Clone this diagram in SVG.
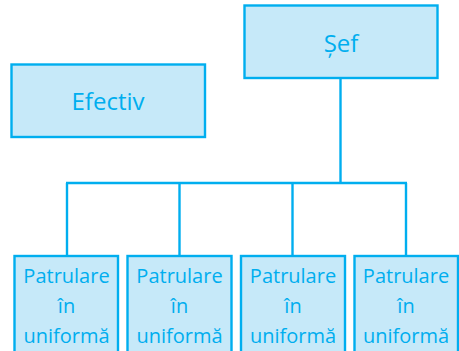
<svg xmlns="http://www.w3.org/2000/svg" width="459" height="351" viewBox="0 0 459 351">
  <style>
    .box { fill: #c6e9f9; stroke: #00aeef; stroke-width: 2.4; }
    .wire { fill: none; stroke: #00aeef; stroke-width: 2.4; }
    text { font-family: "Open Sans", "Liberation Sans", sans-serif; fill: #00aeef; text-anchor: middle; }
    .big { font-size: 24px; }
    .small { font-size: 20px; }
  </style>
  <rect width="459" height="351" fill="#ffffff"/>

  <g id="connectors">
    <line class="wire" x1="340.5" y1="78" x2="340.5" y2="183"/>
    <line class="wire" x1="66" y1="183" x2="407" y2="183"/>
    <line class="wire" x1="67" y1="183" x2="67" y2="256"/>
    <line class="wire" x1="179.5" y1="183" x2="179.5" y2="256"/>
    <line class="wire" x1="292.5" y1="183" x2="292.5" y2="256"/>
    <line class="wire" x1="406" y1="183" x2="406" y2="256"/>
  </g>

  <g id="sef">
    <rect class="box" x="244.5" y="5.5" width="193" height="72.5"/>
    <text class="big" x="341" y="52">Șef</text>
  </g>

  <g id="efectiv">
    <rect class="box" x="11.5" y="64.5" width="193.5" height="72.5"/>
    <text class="big" x="108" y="110">Efectiv</text>
  </g>

  <g id="patrulare-1">
    <rect class="box" x="14.5" y="256" width="103.5" height="100"/>
    <text class="small" x="66.5"><tspan x="66.5" y="283">Patrulare</tspan><tspan x="66.5" y="313">în</tspan><tspan x="66.5" y="343">uniformă</tspan></text>
  </g>

  <g id="patrulare-2">
    <rect class="box" x="127.5" y="256" width="104" height="100"/>
    <text class="small" x="179.5"><tspan x="179.5" y="283">Patrulare</tspan><tspan x="179.5" y="313">în</tspan><tspan x="179.5" y="343">uniformă</tspan></text>
  </g>

  <g id="patrulare-3">
    <rect class="box" x="241" y="256" width="104" height="100"/>
    <text class="small" x="293"><tspan x="293" y="283">Patrulare</tspan><tspan x="293" y="313">în</tspan><tspan x="293" y="343">uniformă</tspan></text>
  </g>

  <g id="patrulare-4">
    <rect class="box" x="354.5" y="256" width="103.5" height="100"/>
    <text class="small" x="406"><tspan x="406" y="283">Patrulare</tspan><tspan x="406" y="313">în</tspan><tspan x="406" y="343">uniformă</tspan></text>
  </g>
</svg>
